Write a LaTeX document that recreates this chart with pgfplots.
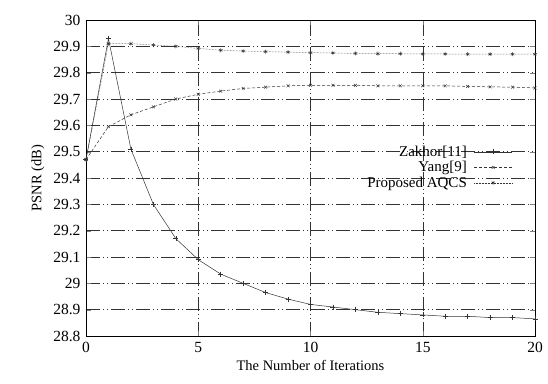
\documentclass[border=0pt]{standalone}
\usepackage{pgfplots}
\pgfplotsset{compat=1.18}
\usepackage{fontspec}
\setmainfont{Liberation Serif}
\newcommand{\lf}{\fontsize{15}{17}\selectfont}
\begin{document}
\begin{tikzpicture}
\begin{axis}[
  anchor=south west, at={(0,0)},
  scale only axis,
  width=449pt, height=316pt,
  xmin=0, xmax=20, ymin=28.8, ymax=30,
  xtick={0,5,10,15,20},
  ytick={28.8,28.9,29,29.1,29.2,29.3,29.4,29.5,29.6,29.7,29.8,29.9,30},
  yticklabels={28.8,28.9,29,29.1,29.2,29.3,29.4,29.5,29.6,29.7,29.8,29.9,30},
  /pgf/number format/assume math mode=true,
  tick label style={font=\fontsize{15.5}{17}\selectfont},
  label style={font=\fontsize{14.5}{16}\selectfont},
  xticklabel style={yshift=-3pt},
  yticklabel style={xshift=-2pt},
  xlabel={The Number of Iterations},
  ylabel={PSNR (dB)},
  xlabel style={yshift=0pt},
  ylabel style={yshift=2pt},
  grid=major,
  major grid style={black!80, dash pattern=on 14pt off 3pt on 1pt off 3pt on 1pt off 3pt, line width=0.5pt},
  tick align=inside,
  tick pos=both,
  major tick length=5pt,
  axis line style={black, line width=0.6pt},
  legend style={draw=none, fill=none, at={(0.95,0.605)}, anchor=north east,
    row sep=1.5pt, inner sep=0pt, column sep=6pt, nodes={inner sep=1pt}},
  legend cell align=right,
  legend plot pos=right,
  legend image code/.code={\draw[mark repeat=2,mark phase=2,#1] plot coordinates {(0pt,0pt)(19pt,0pt)(38pt,0pt)};},
]
\addplot[black!80, line width=0.5pt, mark=+, mark size=2.5pt] coordinates {
(0,29.47)(1,29.93)(2,29.51)(3,29.30)(4,29.17)(5,29.09)(6,29.035)(7,29.0)(8,28.965)(9,28.94)(10,28.92)(11,28.91)(12,28.90)(13,28.89)(14,28.885)(15,28.88)(16,28.875)(17,28.875)(18,28.87)(19,28.87)(20,28.865)};
\addlegendentry{\lf Zakhor[11]}
\addplot[black!80, line width=0.5pt, densely dashed, mark=x, mark size=2pt, mark options={solid}] coordinates {
(0,29.47)(1,29.595)(2,29.64)(3,29.67)(4,29.70)(5,29.718)(6,29.73)(7,29.74)(8,29.745)(9,29.75)(10,29.752)(11,29.752)(12,29.752)(13,29.75)(14,29.75)(15,29.75)(16,29.75)(17,29.748)(18,29.746)(19,29.745)(20,29.742)};
\addlegendentry{\lf Yang[9]}
\addplot[black!80, line width=0.5pt, densely dotted, mark=asterisk, mark size=2pt, mark options={solid}] coordinates {
(0,29.47)(1,29.91)(2,29.91)(3,29.905)(4,29.9)(5,29.892)(6,29.885)(7,29.882)(8,29.88)(9,29.878)(10,29.876)(11,29.875)(12,29.873)(13,29.872)(14,29.872)(15,29.871)(16,29.871)(17,29.87)(18,29.87)(19,29.87)(20,29.87)};
\addlegendentry{\lf Proposed AQCS}
\end{axis}
\pgfresetboundingbox
\path[use as bounding box] (-86pt,-47pt) rectangle (462pt,336pt);
\end{tikzpicture}
\end{document}
